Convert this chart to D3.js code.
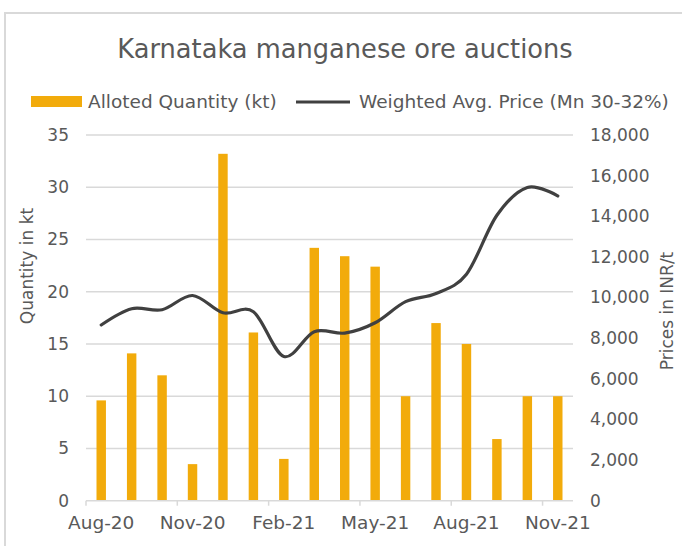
<!DOCTYPE html>
<html>
<head>
<meta charset="utf-8">
<script src="https://cdn.jsdelivr.net/npm/d3@7"></script>
<style>
  body { margin: 0; background: #ffffff; }
  svg text { font-family: "DejaVu Sans", sans-serif; fill: #595959; }
</style>
</head>
<body>
<div id="chartContainer"></div>
<script>
// Data
let months = ["Aug-20", "Sep-20", "Oct-20", "Nov-20", "Dec-20", "Jan-21", "Feb-21", "Mar-21",
              "Apr-21", "May-21", "Jun-21", "Jul-21", "Aug-21", "Sep-21", "Oct-21", "Nov-21"];
let quantity = [9.6, 14.1, 12, 3.5, 33.2, 16.1, 4, 24.2, 23.4, 22.4, 10, 17, 15, 5.9, 10, 10];
let price = [8650, 9450, 9400, 10100, 9250, 9300, 7100, 8320, 8250, 8760, 9800, 10200, 11150, 14050, 15420, 15000];
let qtyTicks = [0, 5, 10, 15, 20, 25, 30, 35];
let priceTicks = [0, 2000, 4000, 6000, 8000, 10000, 12000, 14000, 16000, 18000];
let xLabelMonths = ["Aug-20", "Nov-20", "Feb-21", "May-21", "Aug-21", "Nov-21"];

//Options
let width = 682;
let height = 546;
let plotLeft = 86, plotRight = 573, plotTop = 135, plotBottom = 500.7;
let barColor = "#f2ab0b";
let lineColor = "#404040";
let gridColor = "#d9d9d9";
let font_size = "17px";
let legend_font_size = "18.5px";

let svg = d3.select("#chartContainer").append("svg")
    .attr("width", width)
    .attr("height", height);

// outer frame (only top and left edges show in the picture)
svg.append("rect")
    .attr("x", 5)
    .attr("y", 13)
    .attr("width", 700)
    .attr("height", 560)
    .style("fill", "none")
    .style("stroke", gridColor)
    .style("stroke-width", 2);

let x = d3.scaleBand()
    .domain(months)
    .range([plotLeft, plotRight])
    .paddingInner(0.69)
    .paddingOuter(0.345);

let xCat = d3.scaleBand()
    .domain(months)
    .range([plotLeft, plotRight])
    .padding(0);

let yQty = d3.scaleLinear().domain([0, 35]).range([plotBottom, plotTop]);
let yPrice = d3.scaleLinear().domain([0, 18000]).range([plotBottom, plotTop]);

// gridlines
svg.append("g")
    .attr("id", "grid")
    .selectAll("line")
    .data(qtyTicks.filter(d => d > 0))
    .enter()
    .append("line")
        .attr("x1", plotLeft)
        .attr("x2", plotRight)
        .attr("y1", d => yQty(d))
        .attr("y2", d => yQty(d))
        .style("stroke", gridColor)
        .style("stroke-width", 1.5);

// bars
svg.append("g")
    .attr("id", "bars")
    .selectAll("rect")
    .data(months)
    .enter()
    .append("rect")
        .attr("x", d => x(d))
        .attr("width", x.bandwidth())
        .attr("y", (d, i) => yQty(quantity[i]))
        .attr("height", (d, i) => plotBottom - yQty(quantity[i]))
        .style("fill", barColor);

// x axis
let x_ax = d3.axisBottom(xCat)
    .tickValues(xLabelMonths)
    .tickSize(0)
    .tickSizeOuter(0)
    .tickPadding(15);

let xg = svg.append("g")
    .attr("id", "x_ax")
    .attr("transform", `translate(0,${plotBottom})`)
    .call(x_ax);
xg.select(".domain").remove();
xg.selectAll("text").style("font-size", "18.5px");

xg.append("line")
    .attr("x1", plotLeft).attr("x2", plotRight)
    .style("stroke", gridColor).style("stroke-width", 1.5);

// tick marks sit on the category boundaries
xg.selectAll(".bndTick")
    .data(xLabelMonths)
    .enter()
    .append("line")
        .attr("class", "bndTick")
        .attr("x1", d => xCat(d))
        .attr("x2", d => xCat(d))
        .attr("y1", 0)
        .attr("y2", 5)
        .style("stroke", gridColor)
        .style("stroke-width", 1.5);

// left axis
let yl_ax = d3.axisLeft(yQty)
    .tickValues(qtyTicks)
    .tickSize(0)
    .tickPadding(17)
    .tickFormat(d3.format("d"));
let ylg = svg.append("g")
    .attr("transform", `translate(${plotLeft},0)`)
    .call(yl_ax);
ylg.select(".domain").remove();
ylg.selectAll("text").style("font-size", font_size);

// right axis
let yr_ax = d3.axisRight(yPrice)
    .tickValues(priceTicks)
    .tickSize(0)
    .tickPadding(17)
    .tickFormat(d3.format(",.0f"));
let yrg = svg.append("g")
    .attr("transform", `translate(${plotRight},0)`)
    .call(yr_ax);
yrg.select(".domain").remove();
yrg.selectAll("text").style("font-size", font_size);

// price line, smoothed like the spreadsheet
let line = d3.line()
    .x((d, i) => xCat(months[i]) + xCat.bandwidth() / 2)
    .y(d => yPrice(d))
    .curve(d3.curveCatmullRom.alpha(0));

svg.append("path")
    .datum(price)
    .attr("d", line)
    .style("fill", "none")
    .style("stroke", lineColor)
    .style("stroke-width", 3.2)
    .style("stroke-linecap", "round");

// title
svg.append("text")
    .attr("x", 345)
    .attr("y", 58)
    .attr("text-anchor", "middle")
    .style("font-size", "25.7px")
    .text("Karnataka manganese ore auctions");

// legend
let legend = svg.append("g").attr("id", "legend");
legend.append("rect")
    .attr("x", 31).attr("y", 96)
    .attr("width", 51).attr("height", 11)
    .style("fill", barColor);
legend.append("text")
    .attr("x", 88).attr("y", 108)
    .style("font-size", legend_font_size)
    .text("Alloted Quantity (kt)");
legend.append("line")
    .attr("x1", 296).attr("x2", 350)
    .attr("y1", 102).attr("y2", 102)
    .style("stroke", lineColor)
    .style("stroke-width", 3.2);
legend.append("text")
    .attr("x", 359).attr("y", 108)
    .style("font-size", legend_font_size)
    .text("Weighted Avg. Price (Mn 30-32%)");

// axis titles
svg.append("text")
    .attr("transform", "translate(33,266) rotate(-90)")
    .attr("text-anchor", "middle")
    .style("font-size", font_size)
    .text("Quantity in kt");

svg.append("text")
    .attr("transform", "translate(673,311) rotate(-90)")
    .attr("text-anchor", "middle")
    .style("font-size", font_size)
    .text("Prices in INR/t");
</script>
</body>
</html>
